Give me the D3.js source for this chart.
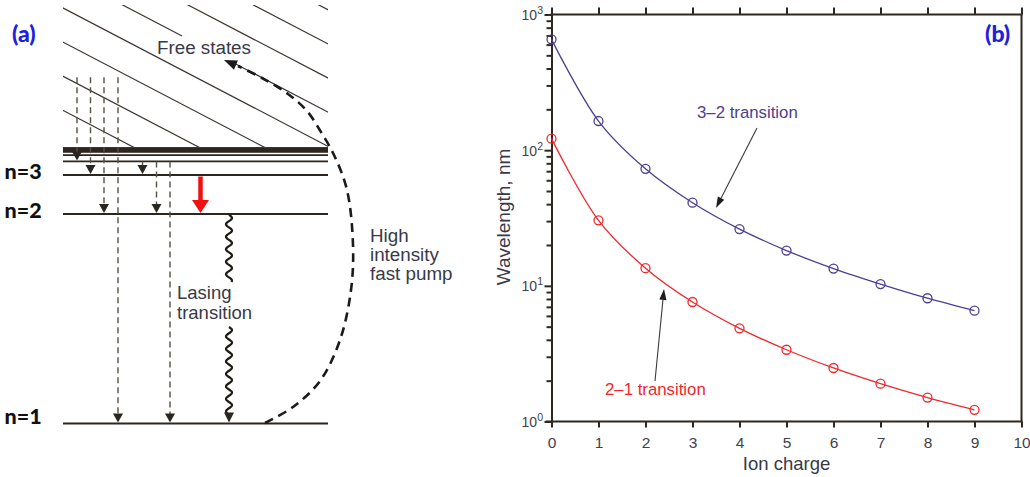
<!DOCTYPE html>
<html><head><meta charset="utf-8">
<script src="https://cdn.jsdelivr.net/npm/d3@7"></script>
<style>html,body{margin:0;padding:0;background:#fff}svg{display:block}</style>
</head><body>
<svg id="c" width="1030" height="477"></svg>
<script>
// ================= DATA =================
// panel (b): hydrogen-like ion wavelengths (nm) vs ion charge
const ionCharge = [0, 1, 2, 3, 4, 5, 6, 7, 8, 9];
const wl32 = [656, 164, 72.9, 41.0, 26.2, 18.2, 13.4, 10.3, 8.1, 6.56];
const wl21 = [121.6, 30.4, 13.5, 7.6, 4.86, 3.38, 2.48, 1.90, 1.50, 1.22];
const xTickValues = [0, 1, 2, 3, 4, 5, 6, 7, 8, 9, 10];
const yDecades = [1, 10, 100, 1000];
const yDecadeExp = ["0", "1", "2", "3"];
const seriesLabels = ["3\u20132 transition", "2\u20131 transition"];
const xTitle = "Ion charge";
const yTitle = "Wavelength, nm";

// panel (a): schematic energy levels (eV, hydrogen-like)
const levelNames = ["n=1", "n=2", "n=3"];
const levelEnergy = [-13.6, -3.4, -1.51, -0.85, -0.544];
const bandEnergy = [-0.378, -0.15];
const freeStartEnergy = 3.25;
// cascade transitions: from level index (-1 = free states) to level index
const cascadeFrom = [-1, -1, -1, -1, 3, 3, 3];
const cascadeTo = [3, 2, 1, 0, 2, 1, 0];

// ================= SETUP =================
const svg = d3.select("#c");
const FONT = "'Liberation Sans', Arial, Helvetica, sans-serif";
const BOLD = "Lato, 'Open Sans', sans-serif";
const ink = "#2c2620";
const textCol = "#393948";

// ---------- Panel (a) ----------
const yE = d3.scaleLinear().domain([-13.6, 0]).range([423.5, 144]);
const aLeft = 63, aRight = 328, hatchTop = 5, hatchBottom = 147;
const ga = svg.append("g");

const defs = svg.append("defs");
defs.append("clipPath").attr("id", "hclip").append("rect")
  .attr("x", aLeft).attr("y", hatchTop).attr("width", aRight - aLeft).attr("height", hatchBottom - hatchTop);

// hatched "free states" region: parallel lines x = c + y/slope
const slope = 0.522;
const hatchStep = 65.4;
const hatchC = d3.range(-3, 5).map(k => 47.7 + k * hatchStep);
const hatch = ga.append("g").attr("clip-path", "url(#hclip)")
  .attr("stroke", "#3d3631").attr("stroke-width", 1.2);
hatchC.forEach((c, i) => {
  const seg = (y0, y1) => hatch.append("line")
    .attr("x1", c + y0 / slope).attr("y1", y0)
    .attr("x2", c + y1 / slope).attr("y2", y1);
  if (i === 4) { seg(0, 36); seg(61, 160); } else seg(0, 160);
});

// band of high levels
ga.append("rect").attr("x", aLeft).attr("width", aRight - aLeft)
  .attr("y", yE(bandEnergy[1])).attr("height", yE(bandEnergy[0]) - yE(bandEnergy[1]) + 1)
  .attr("fill", ink);
// levels
levelEnergy.forEach((e, i) => {
  ga.append("line").attr("x1", aLeft).attr("x2", aRight)
    .attr("y1", yE(e)).attr("y2", yE(e))
    .attr("stroke", ink).attr("stroke-width", i < 3 ? 2 : 1.8);
});
levelNames.forEach((n, i) => {
  ga.append("text").attr("x", 4.5).attr("y", yE(levelEnergy[i]) + (i === 0 ? 0 : 4))
    .attr("font-family", BOLD).attr("font-weight", 900).attr("font-size", 21.5)
    .attr("fill", "#111").text(n);
});

function triDown(g, x, yTip, w, h, fill) {
  g.append("path").attr("d", `M${x - w / 2},${yTip - h}L${x + w / 2},${yTip - h}L${x},${yTip}Z`).attr("fill", fill);
}

// cascade dashed arrows
const cascadeX = [77, 90.5, 104, 118, 142.5, 156.5, 170];
cascadeFrom.forEach((f, i) => {
  const x = cascadeX[i];
  const y0 = f < 0 ? yE(freeStartEnergy) : yE(levelEnergy[f]);
  const y1 = yE(levelEnergy[cascadeTo[i]]) - 1;
  ga.append("line").attr("x1", x).attr("x2", x).attr("y1", y0).attr("y2", y1 - 6)
    .attr("stroke", "#574f47").attr("stroke-width", 1.4).attr("stroke-dasharray", "6,4");
  triDown(ga, x, y1, 10, 9, ink);
});

// red arrow 3 -> 2
{
  const x = 200.5, y0 = yE(levelEnergy[2]) + 1.5, yTip = yE(levelEnergy[1]) - 1;
  ga.append("line").attr("x1", x).attr("x2", x).attr("y1", y0).attr("y2", yTip - 11)
    .attr("stroke", "#ee1111").attr("stroke-width", 4.5);
  triDown(ga, x, yTip, 17, 13, "#ee1111");
}

// wavy lasing transition 2 -> 1
{
  const xw = 229;
  const wave = (ya, yb) => d3.range(ya, yb + 0.01, 0.5).map(y => [xw + 3 * Math.sin(2 * Math.PI * (y - ya) / 12.5), y]);
  const ln = d3.line().curve(d3.curveLinear);
  const yTop = yE(levelEnergy[1]) + 1, yBot = yE(levelEnergy[0]) - 1;
  [[yTop, 282], [327, yBot - 7]].forEach(([a, b]) => {
    ga.append("path").attr("d", ln(wave(a, b))).attr("fill", "none")
      .attr("stroke", "#1e1a16").attr("stroke-width", 2.2);
  });
  triDown(ga, xw, yBot, 10, 10, ink);
}

// dashed pump curve
{
  const pts = [[265, 423], [293, 407], [320, 381], [340, 340], [351, 290], [353, 245], [347, 190],
               [334, 155], [321, 132], [307, 111], [288, 94], [262, 78], [238, 66]];
  ga.append("path").attr("d", d3.line().curve(d3.curveCatmullRom)(pts))
    .attr("fill", "none").attr("stroke", "#1b1b1b").attr("stroke-width", 2.6)
    .attr("stroke-dasharray", "9,6");
  const tip = [224, 60], from = [238, 66];
  const ang = Math.atan2(tip[1] - from[1], tip[0] - from[0]) * 180 / Math.PI;
  ga.append("path").attr("d", "M0,0L-13,-5L-13,5Z").attr("fill", "#1b1b1b")
    .attr("transform", `translate(${tip[0]},${tip[1]}) rotate(${ang})`);
}

// panel (a) texts
const atext = (x, y, t, fs) => ga.append("text").attr("x", x).attr("y", y)
  .attr("font-family", FONT).attr("font-size", fs || 18.8).attr("fill", textCol).text(t);
atext(157, 54, "Free states");
atext(370, 242, "High");
atext(370, 261, "intensity");
atext(370, 280, "fast pump");
atext(177, 299, "Lasing", 18.5);
atext(177, 318.5, "transition", 18.5);
ga.append("text").attr("x", 12).attr("y", 42).attr("font-family", BOLD).attr("font-weight", 900)
  .attr("font-size", 23).attr("fill", "#2020e0").text("(a)");

// ---------- Panel (b) ----------
const x = d3.scaleLinear().domain([0, 10]).range([551.5, 1021.5]);
const y = d3.scaleLog().domain([1, 1000]).range([421.5, 14.5]);
const gb = svg.append("g");
const axisCol = "#2f2820";
const tickTextCol = "#41414e";

// frame right
gb.append("line").attr("x1", x(10)).attr("x2", x(10)).attr("y1", y(1000)).attr("y2", y(1))
  .attr("stroke", axisCol).attr("stroke-width", 2);

// top axis (ticks only)
const gTop = gb.append("g").attr("transform", `translate(0,${y(1000)})`)
  .call(d3.axisTop(x).tickValues(xTickValues).tickSize(7).tickSizeOuter(0).tickFormat(""));
// bottom axis
const gBot = gb.append("g").attr("transform", `translate(0,${y(1)})`)
  .call(d3.axisBottom(x).tickValues(xTickValues).tickSize(6).tickSizeOuter(0).tickPadding(9).tickFormat(d3.format("d")));
// left axis: decade + minor ticks
const gLeft = gb.append("g").attr("transform", `translate(${x(0)},0)`)
  .call(d3.axisLeft(y).tickValues(y.ticks()).tickSize(5).tickSizeOuter(0).tickFormat(""));
gLeft.selectAll(".tick line").attr("x2", d => yDecades.includes(d) ? -7 : -5);

[gTop, gBot, gLeft].forEach(g => {
  g.select(".domain").attr("stroke", axisCol).attr("stroke-width", 2);
  g.selectAll(".tick line").attr("stroke", axisCol).attr("stroke-width", 2);
  g.selectAll("text").attr("font-family", FONT).attr("font-size", 15.5).attr("fill", tickTextCol);
});
gBot.select(".domain").attr("d", `M${x(0) - 6},0H${x(10) + 1}`);
gTop.select(".domain").attr("d", `M${x(0) - 1},0H${x(10) + 1}`);

// decade labels 10^n
yDecades.forEach((d, i) => {
  const t = gb.append("text").attr("x", 543).attr("y", y(d) + 5.5).attr("text-anchor", "end")
    .attr("font-family", FONT).attr("font-size", 14).attr("fill", tickTextCol);
  t.append("tspan").text("10");
  t.append("tspan").attr("dy", -6).attr("font-size", 10.5).text(yDecadeExp[i]);
});

// titles
gb.append("text").attr("x", x(5)).attr("y", 470).attr("text-anchor", "middle")
  .attr("font-family", FONT).attr("font-size", 18.5).attr("fill", textCol).text(xTitle);
gb.append("text").attr("transform", "translate(509.5,217) rotate(-90)").attr("text-anchor", "middle")
  .attr("font-family", FONT).attr("font-size", 19).attr("fill", textCol).text(yTitle);

// series
const series = [
  { vals: wl32, color: "#4d3e92" },
  { vals: wl21, color: "#f0282d" }
];
const line = d3.line().x((d, i) => x(ionCharge[i])).y(d => y(d)).curve(d3.curveCatmullRom);
series.forEach(s => {
  gb.append("path").attr("d", line(s.vals)).attr("fill", "none")
    .attr("stroke", s.color).attr("stroke-width", 1.3);
  gb.selectAll(null).data(s.vals).enter().append("circle")
    .attr("cx", (d, i) => x(ionCharge[i])).attr("cy", d => y(d)).attr("r", 4.5)
    .attr("fill", "none").attr("stroke", s.color).attr("stroke-width", 1.3);
});

// annotations
function annArrow(x1, y1, x2, y2) {
  const ang = Math.atan2(y2 - y1, x2 - x1);
  const L = 11;
  gb.append("line").attr("x1", x1).attr("y1", y1)
    .attr("x2", x2 - L * Math.cos(ang)).attr("y2", y2 - L * Math.sin(ang))
    .attr("stroke", "#3a3a3a").attr("stroke-width", 1.1);
  gb.append("path").attr("d", `M0,0L${-L},-3.6L${-L},3.6Z`).attr("fill", "#1e1e1e")
    .attr("transform", `translate(${x2},${y2}) rotate(${ang * 180 / Math.PI})`);
}
gb.append("text").attr("x", 697).attr("y", 118).attr("font-family", FONT).attr("font-size", 16.8)
  .attr("fill", series[0].color).text(seriesLabels[0]);
annArrow(757, 128, 716, 208);
gb.append("text").attr("x", 605).attr("y", 395).attr("font-family", FONT).attr("font-size", 16.8)
  .attr("fill", series[1].color).text(seriesLabels[1]);
annArrow(655, 381, 664, 289);

gb.append("text").attr("x", 985).attr("y", 42).attr("font-family", BOLD).attr("font-weight", 900)
  .attr("font-size", 23).attr("fill", "#2020e0").text("(b)");
</script>
</body></html>
